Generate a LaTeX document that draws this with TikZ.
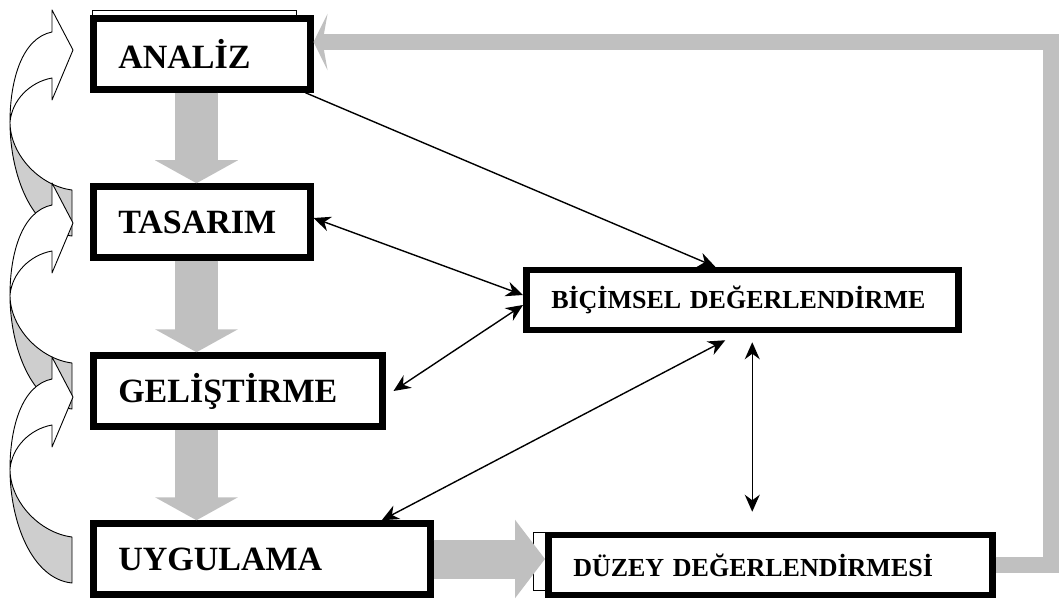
\documentclass[tikz,border=0pt]{standalone}
\usepackage{fontspec}
\setmainfont{Liberation Serif}
\usetikzlibrary{arrows.meta, positioning}
\definecolor{flowgray}{RGB}{192,192,192}
\definecolor{backgray}{RGB}{206,206,206}

\begin{document}
\begin{tikzpicture}[x=1pt, y=-1pt]
% Stiller
    \tikzstyle{phase} = [rectangle, draw, line width=6.5pt, fill=white, anchor=west, minimum height=71pt, inner xsep=25pt, align=left, font=\bfseries\fontsize{34}{34}\selectfont]
    \tikzstyle{check} = [rectangle, draw, line width=6.5pt, fill=white, anchor=west, minimum height=60pt, inner xsep=25pt, align=left, font=\bfseries\fontsize{26}{26}\selectfont]
    \tikzstyle{flow} = [draw=flowgray, line width=43pt, -{Triangle[length=23pt, width=82pt]}]
    \tikzstyle{line} = [draw, line width=1.4pt, -{Stealth[length=17pt, width=15pt]}]
    \tikzstyle{twoway} = [draw, line width=1.4pt, {Stealth[length=17pt, width=15pt]}-{Stealth[length=17pt, width=15pt]}]
    \tikzstyle{curvefront} = [draw, line width=0.9pt, fill=white, line join=round]
    \tikzstyle{curveback} = [draw, line width=0.9pt, fill=backgray, line join=round]

    \useasboundingbox (0,0) rectangle (1059,601);

    % Kutuların arkasındaki ince çerçeveler
    \draw [line width=0.8pt] (92,10) rectangle (296,40);
    \draw [line width=0.8pt] (533,532) rectangle (700,590);

    % Aşamalar
    \node [phase, text width=167pt] (analiz) at (90,54) {ANALİZ};
    \node [phase, text width=167pt] (tasarim) at (90,222) {TASARIM};
    \node [phase, text width=239pt] (gelistirme) at (90,391) {GELİŞTİRME};
    \node [phase, text width=287pt] (uygulama) at (90,559) {UYGULAMA};

    % Değerlendirme kutuları
    \node [check, text width=382pt] (bicimsel) at (523,300) {BİÇİMSEL DEĞERLENDİRME};
    \node [check, text width=394pt] (duzey) at (545,565) {DÜZEY DEĞERLENDİRMESİ};

    % Gri akış okları
    \coordinate (axis) at (196.5,0);
    \path [flow] (analiz.south -| axis) -- (tasarim.north -| axis);
    \path [flow] (tasarim.south -| axis) -- (gelistirme.north -| axis);
    \path [flow] (gelistirme.south -| axis) -- (uygulama.north -| axis);
    \path [flow, line width=39pt, -{Triangle[length=30pt, width=77pt]}] (uygulama.east) -- (uygulama.east -| duzey.west);
    \path [draw=flowgray, line width=16pt, line join=miter, -{Stealth[length=14pt, width=56pt, inset=5pt]}] (duzey.east) -- ++(55,0) |- ([yshift=12pt]analiz.east);

    % Soldaki kıvrık oklar
    \foreach \t in {50,223,397} {
        \path [curveback] (10,{\t+72}) .. controls (10,{\t+125}) and (32,{\t+182}) .. (72,{\t+186})
            -- (72,{\t+140}) .. controls (40,{\t+136}) and (10,{\t+105}) .. cycle;
        \path [curvefront] (52,{\t-18}) .. controls (22,{\t-12}) and (10,{\t+30}) .. (10,{\t+72})
            .. controls (12,{\t+50}) and (30,{\t+32}) .. (52,{\t+28})
            -- (52,{\t+50}) -- (73,\t) -- (52,{\t-40}) -- cycle;
    }

    % Siyah oklar
    \path [line] ([xshift=-8pt]analiz.south east) -- ([xshift=-27pt]bicimsel.north);
    \path [twoway] ([yshift=4pt]tasarim.east) -- ([yshift=5pt]bicimsel.west);
    \path [twoway] ([xshift=8pt]gelistirme.east) -- ([yshift=-5pt]bicimsel.west);
    \path [twoway] ([xshift=120pt]uygulama.north) -- ([xshift=-17pt,yshift=-7pt]bicimsel.south);
    \path [twoway] ([xshift=10pt,yshift=-9pt]bicimsel.south) -- ([xshift=-18pt,yshift=20pt]duzey.north);
\end{tikzpicture}
\end{document}
